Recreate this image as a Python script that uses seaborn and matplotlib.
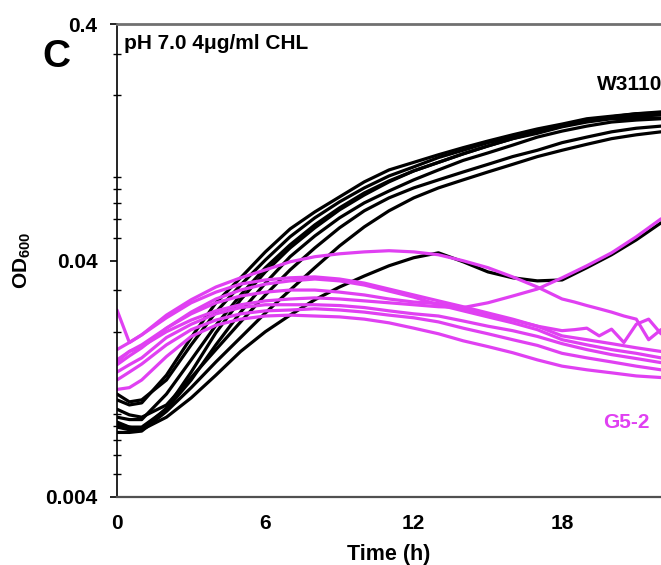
import numpy as np
import pandas as pd
import matplotlib
matplotlib.use("Agg")
import matplotlib.pyplot as plt
import matplotlib.ticker as mticker
import seaborn as sns

# ======== data (OD600 vs time, log scale) ========
TIME = [0, 0.5, 1, 2, 3, 4, 5, 6, 7, 8, 9, 10, 11, 12, 13, 14, 15, 16, 17, 18, 19, 20, 21, 22]
# two noisy G5-2 wells were read at a finer step near the end
NOISY_TIME = [0, 0.5, 1, 2, 3, 4, 5, 6, 7, 8, 9, 10, 11, 12, 13, 14, 15, 16, 17, 18,
              18.5, 19, 19.5, 20, 20.5, 21, 21.5, 22]

# W3110 wells
W1 = [0.0103, 0.0098, 0.0100, 0.0131, 0.0189, 0.0265, 0.0338, 0.0435, 0.0544, 0.0642, 0.0743, 0.0860,
      0.0966, 0.104, 0.112, 0.120, 0.128, 0.136, 0.144, 0.151, 0.159, 0.163, 0.167, 0.168]
W2 = [0.0109, 0.0101, 0.0103, 0.0125, 0.0176, 0.0242, 0.0315, 0.0402, 0.0504, 0.0606, 0.0708, 0.0811,
      0.0911, 0.0995, 0.109, 0.117, 0.126, 0.133, 0.141, 0.148, 0.156, 0.160, 0.163, 0.165]
W3 = [0.0087, 0.0085, 0.0085, 0.0109, 0.0152, 0.0213, 0.0286, 0.0373, 0.0466, 0.0566, 0.0668, 0.0772,
      0.0868, 0.0957, 0.104, 0.113, 0.122, 0.131, 0.138, 0.147, 0.154, 0.159, 0.160, 0.160]
W4 = [0.0079, 0.0077, 0.0077, 0.0095, 0.0135, 0.0198, 0.0273, 0.0358, 0.0452, 0.0550, 0.0655, 0.0757,
      0.0860, 0.0957, 0.104, 0.113, 0.122, 0.131, 0.140, 0.148, 0.156, 0.162, 0.167, 0.170]
W5 = [0.0083, 0.0079, 0.0079, 0.0094, 0.0125, 0.0176, 0.0242, 0.0321, 0.0415, 0.0508, 0.0606, 0.0701,
      0.0787, 0.0877, 0.0966, 0.106, 0.114, 0.123, 0.133, 0.141, 0.148, 0.154, 0.157, 0.159]
W6 = [0.0094, 0.0089, 0.0087, 0.0098, 0.0128, 0.0168, 0.0220, 0.0286, 0.0365, 0.0452, 0.0550, 0.0649,
      0.0736, 0.0811, 0.0877, 0.0947, 0.102, 0.110, 0.117, 0.126, 0.133, 0.140, 0.145, 0.148]
W7 = [0.0075, 0.0075, 0.0076, 0.0092, 0.0116, 0.0149, 0.0189, 0.0240, 0.0300, 0.0373, 0.0461, 0.0555,
      0.0649, 0.0736, 0.0811, 0.0877, 0.0947, 0.102, 0.110, 0.117, 0.124, 0.131, 0.136, 0.140]
W8 = [0.0081, 0.0079, 0.0077, 0.0087, 0.0105, 0.0131, 0.0165, 0.0200, 0.0235, 0.0273, 0.0309, 0.0344,
      0.0380, 0.0411, 0.0431, 0.0395, 0.0358, 0.0338, 0.0328, 0.0331, 0.0373, 0.0423, 0.0489, 0.0577]

# G5-2 wells
G1 = [0.0168, 0.0180, 0.0194, 0.0235, 0.0273, 0.0309, 0.0338, 0.0365, 0.0395, 0.0415, 0.0427, 0.0435,
      0.0440, 0.0435, 0.0423, 0.0399, 0.0373, 0.0341, 0.0309, 0.0275, 0.0267, 0.0258, 0.0250, 0.0242,
      0.0233, 0.0226, 0.0185, 0.0204]
G2 = [0.0152, 0.0165, 0.0173, 0.0200, 0.0224, 0.0245, 0.0260, 0.0270, 0.0275, 0.0278, 0.0275, 0.0270,
      0.0265, 0.0260, 0.0255, 0.0253, 0.0265, 0.0283, 0.0303, 0.0338, 0.0380, 0.0431, 0.0504, 0.0600]
G3 = [0.0247, 0.0180, 0.0194, 0.0229, 0.0265, 0.0294, 0.0318, 0.0331, 0.0338, 0.0341, 0.0334, 0.0321,
      0.0303, 0.0286, 0.0270, 0.0255, 0.0240, 0.0226, 0.0211, 0.0192, 0.0185, 0.0178, 0.0171, 0.0165]
G4 = [0.0145, 0.0158, 0.0171, 0.0207, 0.0242, 0.0275, 0.0300, 0.0318, 0.0328, 0.0334, 0.0328, 0.0315,
      0.0297, 0.0280, 0.0260, 0.0245, 0.0231, 0.0218, 0.0204, 0.0185, 0.0176, 0.0168, 0.0162, 0.0155]
G5 = [0.0135, 0.0145, 0.0155, 0.0189, 0.0215, 0.0238, 0.0253, 0.0260, 0.0260, 0.0260, 0.0258, 0.0253,
      0.0245, 0.0238, 0.0233, 0.0222, 0.0211, 0.0202, 0.0191, 0.0178, 0.0168, 0.0160, 0.0154, 0.0148]
G6 = [0.0125, 0.0135, 0.0146, 0.0176, 0.0204, 0.0224, 0.0238, 0.0245, 0.0247, 0.0250, 0.0247, 0.0242,
      0.0235, 0.0229, 0.0220, 0.0207, 0.0196, 0.0185, 0.0175, 0.0162, 0.0155, 0.0149, 0.0143, 0.0138]
G7 = [0.0114, 0.0116, 0.0125, 0.0157, 0.0191, 0.0213, 0.0226, 0.0233, 0.0235, 0.0233, 0.0231, 0.0226,
      0.0218, 0.0207, 0.0196, 0.0183, 0.0173, 0.0163, 0.0152, 0.0143, 0.0138, 0.0134, 0.0130, 0.0128]
G8 = [0.0149, 0.0165, 0.0176, 0.0207, 0.0238, 0.0265, 0.0283, 0.0294, 0.0300, 0.0300, 0.0294, 0.0286,
      0.0275, 0.0267, 0.0263, 0.0250, 0.0235, 0.0224, 0.0211, 0.0202, 0.0204, 0.0207, 0.0192, 0.0205,
      0.0180, 0.0215, 0.0226, 0.0196]

STRAINS = ["W3110", "G5-2"]
COLORS = {"W3110": "black", "G5-2": "#E040F2"}
Y_TICKS = [0.004, 0.04, 0.4]
Y_TICKLABELS = ["0.004", "0.04", "0.4"]
X_TICKS = [0, 6, 12, 18]
TITLE = "pH 7.0 4μg/ml CHL"
# =====================================================================

wells = [
    ("W3110", "w1", TIME, W1), ("W3110", "w2", TIME, W2), ("W3110", "w3", TIME, W3),
    ("W3110", "w4", TIME, W4), ("W3110", "w5", TIME, W5), ("W3110", "w6", TIME, W6),
    ("W3110", "w7", TIME, W7), ("W3110", "w8", TIME, W8),
    ("G5-2", "g1", NOISY_TIME, G1), ("G5-2", "g2", TIME, G2), ("G5-2", "g3", TIME, G3),
    ("G5-2", "g4", TIME, G4), ("G5-2", "g5", TIME, G5), ("G5-2", "g6", TIME, G6),
    ("G5-2", "g7", TIME, G7), ("G5-2", "g8", NOISY_TIME, G8),
]
frames = [pd.DataFrame({"strain": s, "well": w, "time": t, "od": v}) for s, w, t, v in wells]
df = pd.concat(frames, ignore_index=True)

sns.set_style("ticks")
plt.rcParams["font.family"] = ["Liberation Sans", "DejaVu Sans"]
plt.rcParams["mathtext.fontset"] = "custom"
plt.rcParams["mathtext.bf"] = "Liberation Sans:bold"
plt.rcParams["mathtext.rm"] = "Liberation Sans"
for key in ["text.color", "axes.labelcolor", "xtick.color", "ytick.color"]:
    plt.rcParams[key] = "black"

fig = plt.figure(figsize=(6.61, 5.65), dpi=100)
ax = fig.add_axes([117 / 661, 68 / 565, 544 / 661, 473 / 565])

for strain in STRAINS:
    sns.lineplot(data=df[df["strain"] == strain], x="time", y="od", units="well",
                 estimator=None, color=COLORS[strain], lw=2.3, ax=ax, legend=False,
                 sort=False)

ax.set_yscale("log")
ax.set_ylim(0.004, 0.4)
ax.set_xlim(0, 22)
ax.set_yticks(Y_TICKS)
ax.set_yticklabels(Y_TICKLABELS)
ax.yaxis.set_minor_locator(mticker.LogLocator(base=10, subs=np.arange(2, 10)))
ax.yaxis.set_minor_formatter(mticker.NullFormatter())
ax.set_xticks(X_TICKS)
ax.set_xticklabels([str(x) for x in X_TICKS])

ax.tick_params(axis="y", which="major", direction="out", length=5, width=1.2,
               labelsize=15, pad=9)
ax.tick_params(axis="y", which="minor", direction="inout", length=6, width=1.0)
ax.tick_params(axis="x", which="major", length=0, labelsize=15, pad=12)
for lab in ax.get_xticklabels() + ax.get_yticklabels():
    lab.set_fontweight("bold")

ax.spines["right"].set_visible(False)
ax.spines["top"].set_color("#707070")
ax.spines["top"].set_linewidth(2.0)
ax.spines["bottom"].set_color("#505050")
ax.spines["bottom"].set_linewidth(1.6)
ax.spines["left"].set_color("black")
ax.spines["left"].set_linewidth(1.2)

ax.set_xlabel("Time (h)", fontsize=15.5, fontweight="bold", labelpad=8)
ax.set_ylabel(r"$\mathbf{OD_{600}}$", fontsize=15, labelpad=9)

ax.text(0.013, 0.958, TITLE, transform=ax.transAxes, ha="left", va="center",
        fontsize=15, fontweight="bold")
ax.text(19.4, 0.221, "W3110", ha="left", va="center", fontsize=15,
        fontweight="bold", color=COLORS["W3110"], clip_on=False)
ax.text(20.6, 0.0083, "G5-2", ha="center", va="center", fontsize=15,
        fontweight="bold", color=COLORS["G5-2"])
fig.text(56 / 661, 1 - 57 / 565, "C", ha="center", va="center", fontsize=28,
         fontweight="bold")

fig.savefig("out.png", dpi=100)
